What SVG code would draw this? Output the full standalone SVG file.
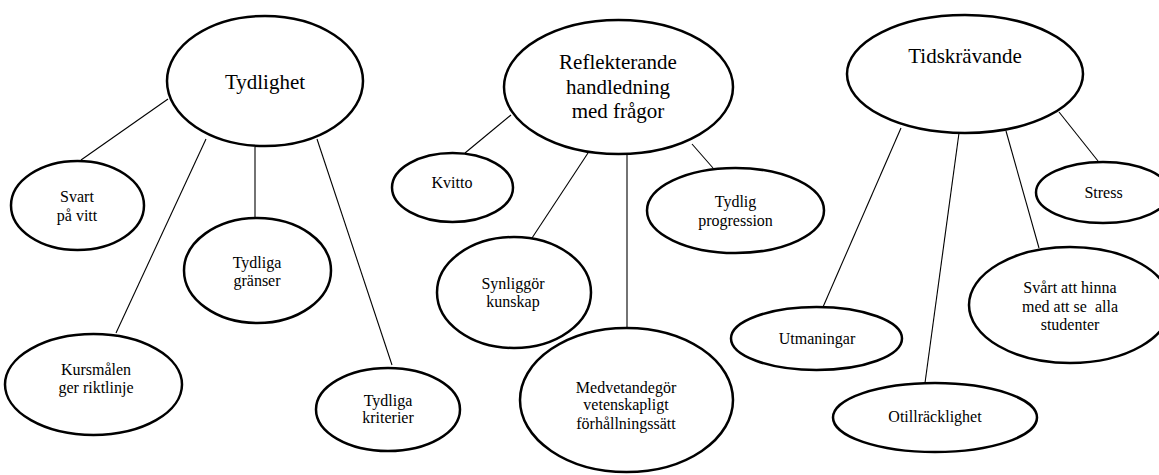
<svg xmlns="http://www.w3.org/2000/svg" width="1159" height="475" viewBox="0 0 1159 475">
<style>
.n ellipse{fill:#fff;stroke:#000;stroke-width:2.5}
.e line{stroke:#000;stroke-width:1.1}
text{fill:#000;text-anchor:middle}
.s{font-size:16px}
.b{font-size:21px}
</style>
<rect width="1159" height="475" fill="#fff"/>
<g id="connectors" class="e">
<line x1="168" y1="99" x2="81" y2="160"/>
<line x1="206" y1="139" x2="116" y2="333"/>
<line x1="255" y1="147" x2="255" y2="218"/>
<line x1="317" y1="139" x2="392" y2="365"/>
<line x1="511" y1="115" x2="465" y2="153"/>
<line x1="588" y1="153" x2="532" y2="238"/>
<line x1="627" y1="150" x2="627" y2="328"/>
<line x1="692" y1="144" x2="713" y2="168"/>
<line x1="901" y1="128" x2="823" y2="307"/>
<line x1="959" y1="133" x2="925" y2="383"/>
<line x1="1006" y1="131" x2="1039" y2="248"/>
<line x1="1059" y1="112" x2="1098" y2="161"/>
</g>
<g font-family="Liberation Serif">
<g id="tydlighet" class="n"><ellipse cx="265" cy="81" rx="98" ry="65"/><text class="b" x="265" y="89">Tydlighet</text></g>
<g id="svart" class="n"><ellipse cx="77.5" cy="205.5" rx="66.5" ry="44.5"/><text class="s" x="77" y="202">Svart</text><text class="s" x="77" y="221">på vitt</text></g>
<g id="granser" class="n"><ellipse cx="257.5" cy="270.5" rx="73.5" ry="52.5"/><text class="s" x="257" y="268">Tydliga</text><text class="s" x="257" y="286">gränser</text></g>
<g id="kursmalen" class="n"><ellipse cx="93.5" cy="384.5" rx="88.5" ry="50.5"/><text class="s" x="96" y="375">Kursmålen</text><text class="s" x="96" y="393">ger riktlinje</text></g>
<g id="kriterier" class="n"><ellipse cx="388" cy="409.5" rx="72" ry="41.5"/><text class="s" x="388" y="406">Tydliga</text><text class="s" x="388" y="423">kriterier</text></g>
<g id="reflekterande" class="n"><ellipse cx="618.5" cy="87" rx="114.5" ry="67"/><text class="b" x="618" y="69">Reflekterande</text><text class="b" x="618" y="94">handledning</text><text class="b" x="618" y="118">med frågor</text></g>
<g id="kvitto" class="n"><ellipse cx="452.5" cy="187.5" rx="60.5" ry="34.5"/><text class="s" x="452" y="188">Kvitto</text></g>
<g id="synliggor" class="n"><ellipse cx="514" cy="292.5" rx="77" ry="55.5"/><text class="s" x="513" y="289">Synliggör</text><text class="s" x="513" y="307">kunskap</text></g>
<g id="medvetandegor" class="n"><ellipse cx="626.5" cy="400" rx="106.5" ry="72"/><text class="s" x="626" y="393">Medvetandegör</text><text class="s" x="626" y="410">vetenskapligt</text><text class="s" x="626" y="429">förhållningssätt</text></g>
<g id="progression" class="n"><ellipse cx="735.5" cy="210.5" rx="88.5" ry="42.5"/><text class="s" x="735.5" y="207">Tydlig</text><text class="s" x="735.5" y="226">progression</text></g>
<g id="tidskravande" class="n"><ellipse cx="965" cy="74" rx="118" ry="59"/><text class="b" x="965" y="63">Tidskrävande</text></g>
<g id="utmaningar" class="n"><ellipse cx="816.5" cy="338.5" rx="85.5" ry="31.5"/><text class="s" x="817" y="344">Utmaningar</text></g>
<g id="otillracklighet" class="n"><ellipse cx="935" cy="417.5" rx="102" ry="34.5"/><text class="s" x="935" y="422">Otillräcklighet</text></g>
<g id="svart-att-hinna" class="n"><ellipse cx="1070" cy="305" rx="101" ry="58"/><text class="s" x="1070" y="293">Svårt att hinna</text><text class="s" x="1070" y="311.5">med att se&#160; alla</text><text class="s" x="1070" y="330">studenter</text></g>
<g id="stress" class="n"><ellipse cx="1103" cy="192.5" rx="67" ry="30.5"/><text class="s" x="1103.5" y="198">Stress</text></g>
</g>
</svg>
